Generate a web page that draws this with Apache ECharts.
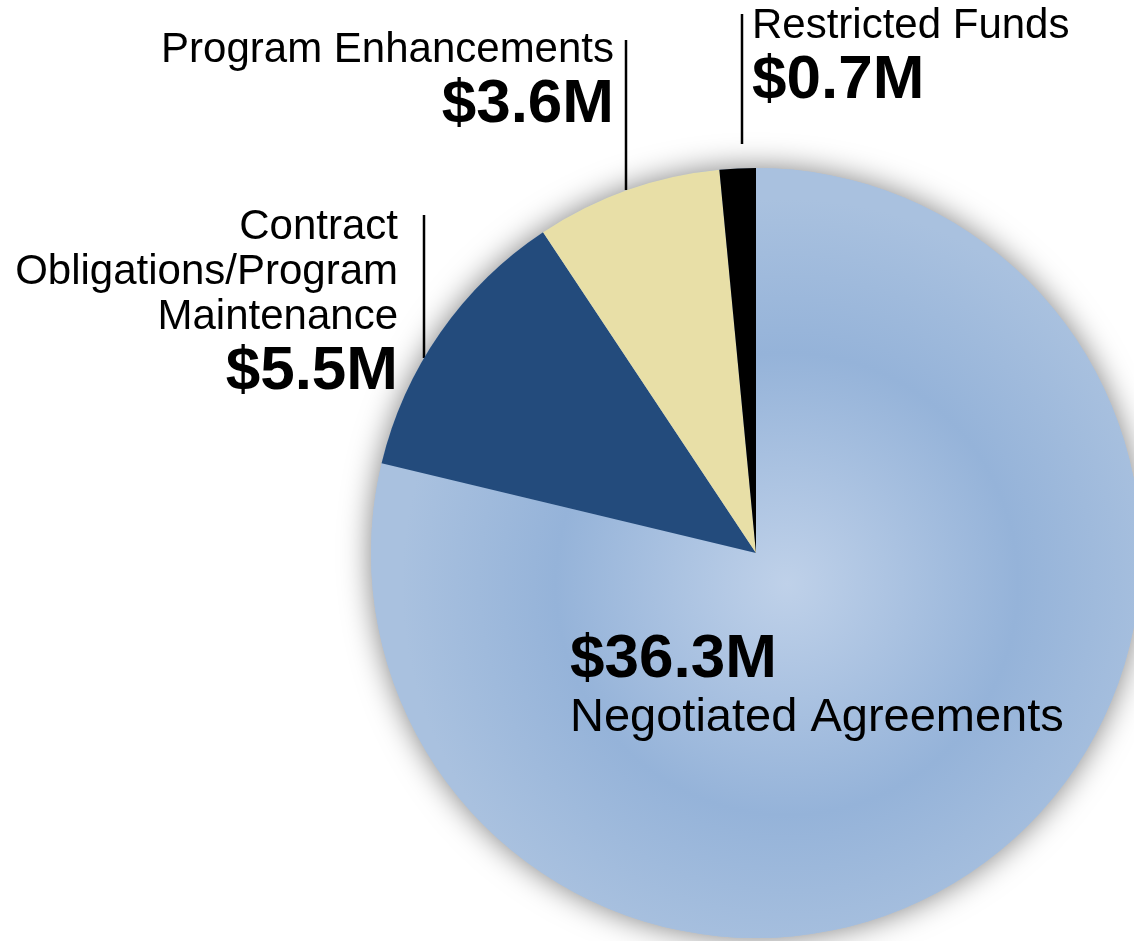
<!DOCTYPE html>
<html>
<head>
<meta charset="utf-8">
<script src="https://cdn.jsdelivr.net/npm/echarts@6/dist/echarts.min.js"></script>
<style>
  html, body { margin: 0; padding: 0; background: #fff; }
  #grafico { width: 1134px; height: 941px; }
</style>
</head>
<body>
<div id="grafico"></div>
<script>
// Datos del gráfico (millones de dólares)
const categorias = ['Negotiated Agreements', 'Contract\nObligations/Program\nMaintenance', 'Program Enhancements', 'Restricted Funds'];
const valores = [36.3, 5.5, 3.6, 0.7];
const etiquetasValor = ['$36.3M', '$5.5M', '$3.6M', '$0.7M'];
const colores = ['#a7bfde', '#234b7c', '#e8dfa7', '#000000'];

// posiciones de las etiquetas y sus líneas
const posEtiquetas = [
    { x: 570, y: 627, align: 'left' },
    { x: 398, y: 205, align: 'right' },
    { x: 614, y: 27, align: 'right' },
    { x: 752, y: 3, align: 'left' }
];
const lineasEtiquetas = [
    null,
    [[424, 215], [424, 286], [424, 358]],
    [[626, 40], [626, 115], [626, 190]],
    [[742, 14], [742, 79], [742, 144]]
];

const centro = [756, 553];
const radio = 385;

const fuente = '"Liberation Sans", Arial, sans-serif';

const gradienteAzul = new echarts.graphic.RadialGradient(0.54, 0.54, 0.5, [
    { offset: 0, color: '#bfd1e9' },
    { offset: 0.6, color: '#95b3d9' },
    { offset: 1, color: '#a9c1df' }
]);

const datos = categorias.map((nombre, i) => ({
    name: nombre,
    value: valores[i],
    itemStyle: { color: i === 0 ? gradienteAzul : colores[i] },
    labelLine: { show: i !== 0, lineStyle: { color: '#000', width: 2.5 } },
    label: {
        overflow: 'none',
        rich: {
            n: {
                fontSize: i === 0 ? 47 : 42,
                lineHeight: i === 0 ? 50 : (i === 1 ? 45 : 46),
                fontFamily: fuente, color: '#000', align: posEtiquetas[i].align
            },
            v: { fontSize: 62, lineHeight: i === 0 ? 66 : 64, fontWeight: 'bold', fontFamily: fuente, color: '#000', align: posEtiquetas[i].align }
        }
    }
}));

const chart = echarts.init(document.getElementById('grafico'));
chart.setOption({
    animation: false,
    backgroundColor: '#ffffff',
    series: [
        {
            // sombra suave bajo el pastel
            type: 'pie',
            silent: true,
            center: centro,
            radius: radio,
            z: 1,
            label: { show: false },
            labelLine: { show: false },
            data: [{ value: valores.reduce((a, b) => a + b, 0), itemStyle: { color: '#a7bfde', shadowBlur: 30, shadowColor: 'rgba(0,0,0,0.5)' } }]
        },
        {
            type: 'pie',
            center: centro,
            radius: radio,
            startAngle: 90,
            clockwise: true,
            z: 2,
            itemStyle: { borderWidth: 0 },
            label: {
                show: true,
                position: 'outside',
                overflow: 'none',
                formatter: function (p) {
                    const i = p.dataIndex;
                    if (i === 0) return '{v|' + etiquetasValor[i] + '}\n{n|' + categorias[i] + '}';
                    return categorias[i].split('\n').map(t => '{n|' + t + '}').join('\n') + '\n{v|' + etiquetasValor[i] + '}';
                }
            },
            labelLine: { show: true, lineStyle: { color: '#000', width: 2.5 } },
            labelLayout: function (p) {
                const pos = posEtiquetas[p.dataIndex];
                const res = { x: pos.x, y: pos.y, align: pos.align, verticalAlign: 'top' };
                if (lineasEtiquetas[p.dataIndex]) res.labelLinePoints = lineasEtiquetas[p.dataIndex];
                return res;
            },
            data: datos
        }
    ]
});
</script>
</body>
</html>
